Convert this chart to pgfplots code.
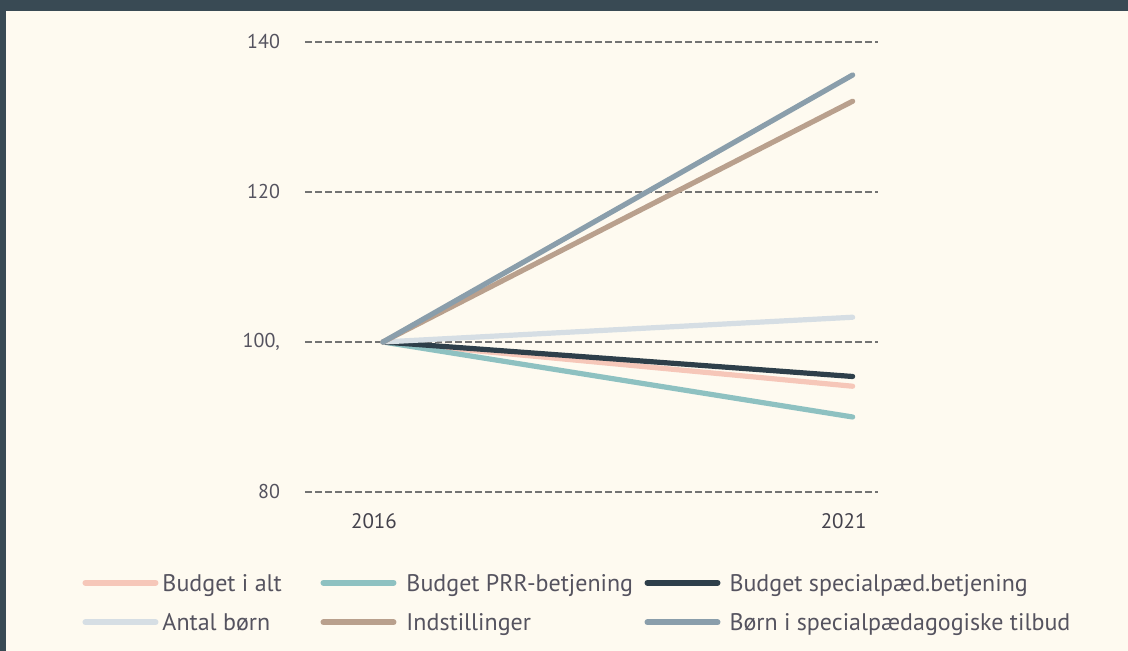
\documentclass[border=0pt]{standalone}
\usepackage{pgfplots}
\pgfplotsset{compat=1.18}
\usepackage{fontspec}
\setmainfont{PT Sans}
\definecolor{frame}{HTML}{394A54}
\definecolor{bg}{HTML}{FEFAF0}
\definecolor{txt}{HTML}{55535F}
\definecolor{cpink}{HTML}{F6C7B9}
\definecolor{cteal}{HTML}{8EC1C1}
\definecolor{cdark}{HTML}{2E3F4A}
\definecolor{clight}{HTML}{D6DEE4}
\definecolor{ctan}{HTML}{B9A08D}
\definecolor{cblue}{HTML}{8A9EAB}
\begin{document}
\begin{tikzpicture}
\fill[frame] (0,0) rectangle (564pt,325.5pt);
\fill[bg] (3pt,0) rectangle (564pt,320pt);
\begin{axis}[
  at={(152.5pt,79.5pt)}, anchor=south west,
  scale only axis, width=286.5pt, height=225pt,
  xmin=2015.17, xmax=2021.27, ymin=80, ymax=140,
  axis line style={draw=none},
  major tick length=0pt,
  xtick={2016,2021}, xticklabels={2016,2021},
  ytick={80,100,120,140}, yticklabels={80,{100,},120,140},
  ymajorgrids,
  grid style={draw=black!55, line width=1pt, dash pattern=on 3.5pt off 1.5pt},
  yticklabel style={font=\fontsize{10}{12}\selectfont, text=txt, anchor=east, xshift=-9pt},
  xticklabel style={font=\fontsize{10.5}{12}\selectfont, text=txt!80!black, yshift=-7pt, xshift=-4.5pt},
  every axis plot/.append style={line width=2.6pt, line cap=round},
  legend image code/.code={\draw[#1, line width=3pt, line cap=round] (0pt,0pt) -- (35pt,0pt);},
  legend columns=3,
  legend cell align=left,
  legend style={at={(axis description cs:-0.389,-0.2456)}, anchor=west,
    draw=none, fill=none, inner sep=0pt, row sep=8.5pt,
    nodes={inner sep=0pt, font=\fontsize{12}{14}\selectfont, text=txt}},
]
\addplot[cpink] coordinates {(2016,100) (2021,94.1)};
\addlegendentry{\hspace{2pt}\makebox[79pt][l]{\strut Budget i alt}}
\addplot[cteal] coordinates {(2016,100) (2021,90.0)};
\addlegendentry{\hspace{5pt}\makebox[119pt][l]{\strut Budget PRR-betjening}}
\addplot[cdark] coordinates {(2016,100) (2021,95.4)};
\addlegendentry{\hspace{4.5pt}\strut Budget specialpæd.betjening}
\addplot[clight] coordinates {(2016,100) (2021,103.3)};
\addlegendentry{\hspace{2pt}\makebox[79pt][l]{\strut Antal børn}}
\addplot[ctan] coordinates {(2016,100) (2021,132.1)};
\addlegendentry{\hspace{5pt}\makebox[119pt][l]{\strut Indstillinger}}
\addplot[cblue] coordinates {(2016,100) (2021,135.6)};
\addlegendentry{\hspace{4.5pt}\strut Børn i specialpædagogiske tilbud}
\end{axis}
\end{tikzpicture}
\end{document}
